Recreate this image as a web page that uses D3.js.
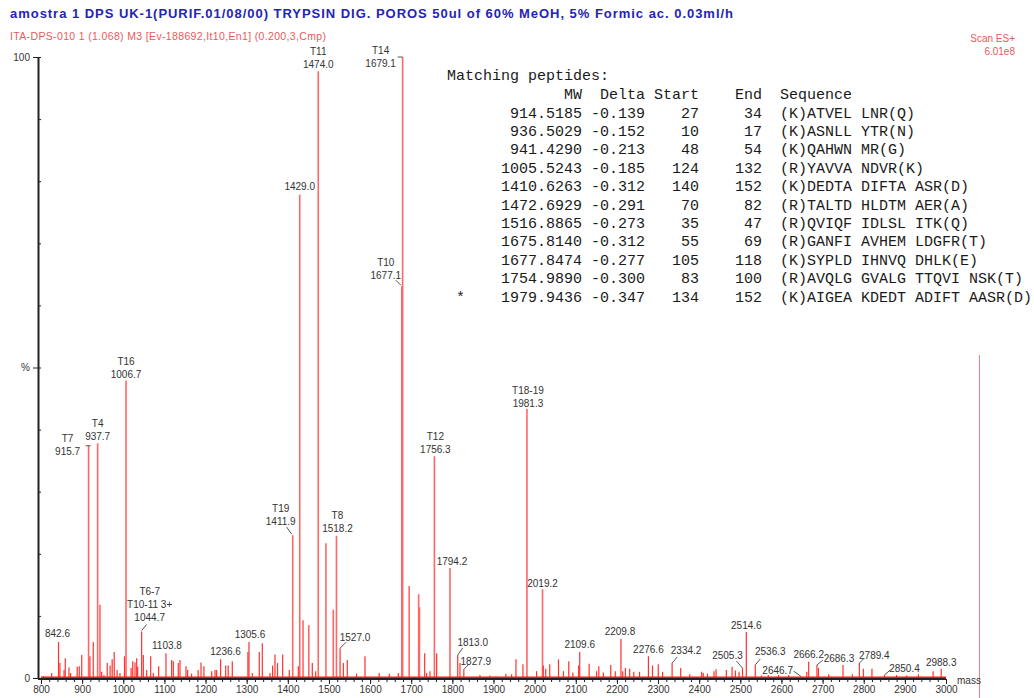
<!DOCTYPE html>
<html><head><meta charset="utf-8">
<script src="https://cdn.jsdelivr.net/npm/d3@7"></script>
<style>
body{margin:0;background:#fff;}
svg{display:block;}
</style></head><body>
<svg id="chart" width="1034" height="698"></svg>
<script>
// ---------------- data ----------------
const titleText = "amostra 1 DPS UK-1(PURIF.01/08/00) TRYPSIN DIG. POROS 50ul of 60% MeOH, 5% Formic ac. 0.03ml/h";
const subtitleText = "ITA-DPS-010  1 (1.068) M3 [Ev-188692,It10,En1] (0.200,3,Cmp)";
const scanLines = ["Scan ES+", "6.01e8"];
const xTicks = [800,900,1000,1100,1200,1300,1400,1500,1600,1700,1800,1900,2000,2100,2200,2300,2400,2500,2600,2700,2800,2900,3000];
const yTickValues = [0, 50, 100];
const yTickLabels = ["0", "%", "100"];
const xAxisName = "mass";

const peakMass = [806,826,842.6,846,856,859,868,872,888,893,899,915.7,919,927,937.7,943.4,947.5,953,961,968,973,978,985,992,1003,1006.7,1019,1023,1028.5,1032.6,1035,1044.7,1048.7,1057,1066.6,1073,1086,1103.8,1117.6,1121.6,1133.7,1137.9,1152.5,1156.5,1166,1182,1189,1196,1215,1223,1227,1236.6,1249,1255,1265,1303,1305.6,1313.6,1330.6,1338,1356.6,1363,1368.8,1375,1387.5,1403.6,1411.9,1425.5,1429.0,1437,1451,1459.5,1467.7,1474.0,1492.7,1510.5,1518.2,1527.0,1535,1544.6,1567,1587.6,1622,1646.6,1668.5,1677.1,1679.1,1695,1718,1720,1732.7,1737.5,1745.6,1756.3,1761.8,1794.2,1813.0,1818.5,1827.9,1867,1891,1906,1930,1944,1954.6,1971.6,1981.3,2004.7,2019.2,2021,2027,2036.7,2058,2070,2083,2093,2107,2109.6,2132.5,2150.5,2156,2167,2185,2196,2209.8,2214,2220.6,2231,2241,2255,2276.6,2286.5,2300.5,2311,2334.2,2355,2377,2406,2410,2420,2436,2441,2466,2480,2488,2497,2505.3,2514.6,2536.3,2551.5,2568,2593,2617.6,2646.7,2661.5,2666.2,2686.3,2690,2715,2749.6,2772.5,2789.4,2799,2820,2850.4,2880,2904.5,2933,2968.7,2988.3];
const peakIntensity = [0.3,0.8,5.8,2.4,1.3,3.2,1.7,0.8,1.8,1.9,3.7,37.4,3.5,5.8,37.8,11.8,1.0,0.5,2.4,2.0,3.0,4.2,1.3,0.8,3.5,47.9,1.6,2.7,2.5,3.2,1.8,7.5,3.7,1.3,3.5,0.8,1.9,4.0,2.9,2.7,2.4,2.9,1.9,1.3,0.7,1.3,2.5,1.9,1.1,1.3,1.3,3.0,2.0,2.0,2.7,4.2,5.8,0.8,4.2,5.6,0.8,2.0,3.8,2.4,3.8,1.3,23.0,1.9,77.8,9.3,8.5,2.4,1.1,97.7,21.7,11.0,22.9,4.8,2.4,2.9,0.7,3.5,0.8,0.7,0.8,63.1,100,14.8,13.5,11.4,4.0,0.8,1.1,35.7,4.0,17.7,3.7,2.4,1.4,0.5,0.4,0.3,0.7,0.6,3.0,2.2,43.3,1.1,14.3,2.0,1.5,2.2,3.0,1.1,2.7,0.9,2.0,4.2,2.3,1.1,1.9,0.9,2.1,1.1,6.3,1.1,1.6,1.5,1.0,1.0,3.5,2.0,2.2,1.0,2.4,1.6,0.6,1.0,0.8,0.7,1.1,1.4,1.3,1.8,1.2,1.0,1.6,7.4,2.1,0.4,0.5,0.5,0.5,0.3,1.0,2.6,2.1,1.6,0.6,2.1,0.6,2.4,1.5,1.5,0.5,0.5,0.4,0.6,1.1,1.5];

const labelMass = [842.6,915.7,937.7,1006.7,1044.7,1103.8,1236.6,1305.6,1411.9,1429.0,1474.0,1518.2,1527.0,1677.1,1679.1,1756.3,1794.2,1813.0,1827.9,1981.3,2019.2,2109.6,2209.8,2276.6,2334.2,2505.3,2514.6,2536.3,2646.7,2666.2,2686.3,2789.4,2850.4,2988.3];
const labelText = [["842.6"],["T7","915.7"],["T4","937.7"],["T16","1006.7"],["T6-7","T10-11 3+","1044.7"],["1103.8"],["1236.6"],["1305.6"],["T19","1411.9"],["1429.0"],["T11","1474.0"],["T8","1518.2"],["1527.0"],["T10","1677.1"],["T14","1679.1"],["T12","1756.3"],["1794.2"],["1813.0"],["1827.9"],["T18-19","1981.3"],["2019.2"],["2109.6"],["2209.8"],["2276.6"],["2334.2"],["2505.3"],["2514.6"],["2536.3"],["2646.7"],["2666.2"],["2686.3"],["2789.4"],["2850.4"],["2988.3"]];

const tableTitle = "Matching peptides:";
const tableHeader = ["MW","Delta","Start","End","Sequence"];
const tableFlag  = ["","","","","","","","","","","*"];
const tableMW    = ["914.5185","936.5029","941.4290","1005.5243","1410.6263","1472.6929","1516.8865","1675.8140","1677.8474","1754.9890","1979.9436"];
const tableDelta = ["-0.139","-0.152","-0.213","-0.185","-0.312","-0.291","-0.273","-0.312","-0.277","-0.300","-0.347"];
const tableStart = ["27","10","48","124","140","70","35","55","105","83","134"];
const tableEnd   = ["34","17","54","132","152","82","47","69","118","100","152"];
const tableSeq   = ["(K)ATVEL LNR(Q)","(K)ASNLL YTR(N)","(K)QAHWN MR(G)","(R)YAVVA NDVR(K)","(K)DEDTA DIFTA ASR(D)","(R)TALTD HLDTM AER(A)","(R)QVIQF IDLSL ITK(Q)","(R)GANFI AVHEM LDGFR(T)","(K)SYPLD IHNVQ DHLK(E)","(R)AVQLG GVALG TTQVI NSK(T)","(K)AIGEA KDEDT ADIFT AASR(D)"];

// ---------------- layout (label offsets relative to bar top, px) ----------------
const labelLayout = {
  "842.6":[-1,-8], "915.7":[-21,6,[-3,0,2,0]], "937.7":[0,-7], "1006.7":[0,-6],
  "1044.7":[8,-14,[0,-1,5,-7]], "1103.8":[1,-8], "1236.6":[5,-8], "1305.6":[1,-7],
  "1411.9":[-12,-14,[-1,-1,-6,-8]], "1429":[0,-8], "1474":[0,-7], "1518.2":[1,-7],
  "1527":[15,-11,[0,0,6,-6]], "1677.1":[-16,-11,[-1,-1,-6,-6]], "1679.1":[-22,6,[-5,0,0,0]],
  "1756.3":[1,-7], "1794.2":[2,-7], "1813":[15,-13,[0,0,5,-7]], "1827.9":[12,-8,[0,0,5,-5]],
  "1981.3":[1,-6], "2019.2":[0,-6], "2109.6":[0,-7], "2209.8":[-1,-7], "2276.6":[0,-7],
  "2334.2":[14,-13,[0,0,5,-6]], "2505.3":[-15,-13,[0,0,-6,-7]], "2514.6":[0,-7],
  "2536.3":[15,-13,[0,0,5,-6]], "2646.7":[-23,-6,[0,0,-7,-5]], "2666.2":[0,-7],
  "2686.3":[22,-6,[0,0,6,-5]], "2789.4":[15,-8,[0,0,5,-5]], "2850.4":[20,-6,[0,0,6,-5]],
  "2988.3":[0,-6]
};

const svg = d3.select("#chart");
const W = 1034, H = 698;
svg.append("rect").attr("width", W).attr("height", H).attr("fill", "#fff");

const x = d3.scaleLinear().domain([800, 3000]).range([41, 946]);
const y = d3.scaleLinear().domain([0, 100]).range([678, 57]);

const sans = "'Liberation Sans', Arial, sans-serif";
const mono = "'Liberation Mono', 'Courier New', monospace";

// header texts
svg.append("text").attr("x", 10).attr("y", 18).text(titleText)
  .attr("font-family", sans).attr("font-weight", "bold").attr("font-size", 13)
  .attr("textLength", 723).attr("lengthAdjust", "spacing").attr("fill", "#2424b4");
svg.append("text").attr("x", 10).attr("y", 40).text(subtitleText)
  .attr("font-family", sans).attr("font-size", 10.5)
  .attr("textLength", 316).attr("lengthAdjust", "spacing").attr("fill", "#e85a5a");
svg.selectAll("text.scan").data(scanLines).join("text").attr("class", "scan")
  .attr("x", 1015).attr("y", (d, i) => 42 + i * 13).attr("text-anchor", "end")
  .attr("font-family", sans).attr("font-size", 10).attr("fill", "#e85a5a").text(d => d);

// red vertical marker at right
svg.append("line").attr("x1", 979.5).attr("x2", 979.5).attr("y1", 355).attr("y2", H)
  .attr("stroke", "#ff7a7a").attr("stroke-width", 1);

// spectrum
const peaks = peakMass.map((m, i) => ({ m, v: peakIntensity[i] }));
const gSpec = svg.append("g");
gSpec.selectAll("line.pk").data(peaks).join("line").attr("class", "pk")
  .attr("x1", d => x(d.m)).attr("x2", d => x(d.m))
  .attr("y1", y(0)).attr("y2", d => y(d.v))
  .attr("stroke", d => d.v > 8 ? "#ff6666" : "#ff3030")
  .attr("stroke-width", d => d.v > 8 ? 1.6 : 1.2);
gSpec.append("line").attr("x1", x(800)).attr("x2", x(3000)).attr("y1", y(0) - 0.5).attr("y2", y(0) - 0.5)
  .attr("stroke", "#ff1a1a").attr("stroke-width", 2);

// x axis: minor + major in separate groups
const gxMinor = svg.append("g").attr("transform", `translate(0,${y(0) + 1})`);
gxMinor.call(d3.axisBottom(x).tickValues(d3.range(800, 3001, 20)).tickSize(3).tickFormat(""));
gxMinor.select(".domain").remove();
gxMinor.selectAll(".tick line").attr("stroke", "#222");
const gx = svg.append("g").attr("transform", `translate(0,${y(0) + 1})`);
gx.call(d3.axisBottom(x).tickValues(xTicks).tickSize(5).tickSizeOuter(0).tickFormat(d3.format("d")));
gx.select(".domain").attr("stroke", "#222").attr("stroke-width", 2).attr("d", `M38,0H${x(3000)}`);
gx.selectAll(".tick line").attr("stroke", "#222");
gx.selectAll(".tick text").attr("font-family", sans).attr("font-size", 10).attr("fill", "#333").attr("dy", "0.55em");
svg.append("text").attr("x", 957).attr("y", y(0) + 6).text(xAxisName)
  .attr("font-family", sans).attr("font-size", 10).attr("fill", "#333");

// y axis: minor + major in separate groups
const gyMinor = svg.append("g").attr("transform", "translate(38,0)");
gyMinor.call(d3.axisRight(y).tickValues(d3.range(0, 101, 10)).tickSize(3).tickFormat(""));
gyMinor.select(".domain").remove();
gyMinor.selectAll(".tick line").attr("stroke", "#222");
const gy = svg.append("g").attr("transform", "translate(38,0)");
gy.call(d3.axisLeft(y).tickValues(yTickValues).tickSize(5).tickSizeOuter(0)
  .tickFormat(d => yTickLabels[yTickValues.indexOf(d)]));
gy.select(".domain").attr("stroke", "#222").attr("stroke-width", 2);
gy.selectAll(".tick line").attr("stroke", "#222");
gy.selectAll(".tick text").attr("font-family", sans).attr("font-size", 10).attr("fill", "#333");

// peak labels
const gLab = svg.append("g");
labelMass.forEach((m, i) => {
  const v = peakIntensity[peakMass.indexOf(m)];
  const bx = x(m), by = y(v);
  const lay = labelLayout[String(m)] || [0, -7];
  const cx = bx + lay[0], cy = by + lay[1];
  const lines = labelText[i];
  lines.forEach((t, j) => {
    gLab.append("text").attr("x", cx).attr("y", cy - (lines.length - 1 - j) * 13)
      .attr("dy", "0.35em").attr("text-anchor", "middle")
      .attr("font-family", sans).attr("font-size", 10).attr("fill", "#333").text(t);
  });
  if (lay[2]) {
    const L = lay[2];
    gLab.append("line").attr("x1", bx + L[0]).attr("y1", by + L[1]).attr("x2", bx + L[2]).attr("y2", by + L[3])
      .attr("stroke", "#444").attr("stroke-width", 0.9);
  }
});

// matching peptides table
const tx0 = 447, cw = 9;
const gT = svg.append("g").attr("font-family", mono).attr("font-size", 15).attr("fill", "#1a1a1a");
gT.append("text").attr("x", tx0).attr("y", 80).text(tableTitle);
const colEnd = { mw: tx0 + 15 * cw, start: tx0 + 28 * cw, end: tx0 + 35 * cw };
const colStart = { flag: tx0 + 1 * cw, delta: tx0 + 16 * cw, seq: tx0 + 37 * cw };
const hy = 99;
gT.append("text").attr("x", colEnd.mw).attr("y", hy).attr("text-anchor", "end").text(tableHeader[0]);
gT.append("text").attr("x", tx0 + 17 * cw).attr("y", hy).text(tableHeader[1]);
gT.append("text").attr("x", colEnd.start).attr("y", hy).attr("text-anchor", "end").text(tableHeader[2]);
gT.append("text").attr("x", colEnd.end).attr("y", hy).attr("text-anchor", "end").text(tableHeader[3]);
gT.append("text").attr("x", colStart.seq).attr("y", hy).text(tableHeader[4]);
tableMW.forEach((mw, i) => {
  const ry = 117.5 + 18.4 * i;
  if (tableFlag[i]) gT.append("text").attr("x", colStart.flag).attr("y", ry).text(tableFlag[i]);
  gT.append("text").attr("x", colEnd.mw).attr("y", ry).attr("text-anchor", "end").text(mw);
  gT.append("text").attr("x", colStart.delta).attr("y", ry).text(tableDelta[i]);
  gT.append("text").attr("x", colEnd.start).attr("y", ry).attr("text-anchor", "end").text(tableStart[i]);
  gT.append("text").attr("x", colEnd.end).attr("y", ry).attr("text-anchor", "end").text(tableEnd[i]);
  gT.append("text").attr("x", colStart.seq).attr("y", ry).text(tableSeq[i]);
});
</script>
</body></html>
